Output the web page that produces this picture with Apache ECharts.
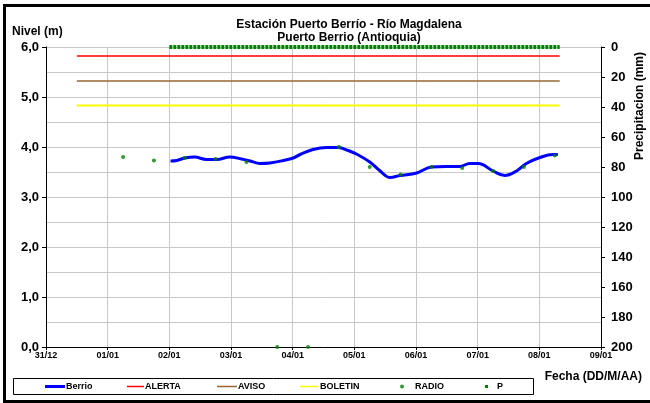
<!DOCTYPE html>
<html>
<head>
<meta charset="utf-8">
<script src="https://cdn.jsdelivr.net/npm/echarts@6/dist/echarts.min.js"></script>
<style>
html,body{margin:0;padding:0;background:#fff;}
#c{width:650px;height:403px;}
</style>
</head>
<body>
<div id="c"></div>
<script>
// ---- data ----
const xTickLabels = ['31/12','01/01','02/01','03/01','04/01','05/01','06/01','07/01','08/01','09/01'];
const berrioDays   = [2.02,2.12,2.25,2.41,2.60,2.77,2.98,3.17,3.31,3.47,3.63,3.85,4.01,4.12,4.33,4.55,4.74,4.90,5.05,5.25,5.41,5.58,5.74,6.01,6.25,6.49,6.71,6.87,7.01,7.25,7.44,7.63,7.79,8.01,8.22,8.30];
const berrioLevels = [3.72,3.73,3.78,3.80,3.75,3.75,3.80,3.76,3.72,3.67,3.68,3.73,3.78,3.85,3.95,3.99,3.99,3.93,3.85,3.70,3.53,3.39,3.43,3.48,3.60,3.61,3.61,3.67,3.67,3.52,3.43,3.52,3.67,3.79,3.85,3.85];
const radioDays   = [1.25,1.75,2.25,2.75,3.25,3.75,4.25,4.75,5.25,5.75,6.25,6.75,7.25,7.75,8.25];
const radioLevels = [3.80,3.73,3.78,3.76,3.70,0.00,0.00,4.00,3.60,3.45,3.60,3.58,3.52,3.60,3.83];
const thresholdDays = [0.5, 8.33];
const alertaLevel  = 5.82;
const avisoLevel   = 5.32;
const boletinLevel = 4.83;
const pDays   = [2.0, 8.33];
const pValues = [0, 0];

const FONT = "'Liberation Sans', Arial, sans-serif";
const pair = (xs, ys) => xs.map((x, i) => [x, ys[i]]);
const flat = (xs, v) => xs.map(x => [x, v]);

const chart = echarts.init(document.getElementById('c'), null, {renderer: 'canvas'});

const legendText = (padLeft) => ({fontFamily: FONT, fontWeight: 'bold', fontSize: 9, color: '#000', padding: [0,0,0,padLeft], lineHeight: 11});
function legendAt(name, left, icon, w, h, padLeft) {
  return {
    data: [{name: name, icon: icon}], left: left, top: 381, itemWidth: w, itemHeight: h, padding: 0,
    textStyle: legendText(padLeft), selectedMode: false
  };
}

chart.setOption({
  animation: false,
  backgroundColor: '#fff',
  title: {
    text: 'Estación Puerto Berrío - Río Magdalena\nPuerto Berrio (Antioquia)',
    left: 344, top: 13, textAlign: 'center',
    textStyle: {fontFamily: FONT, fontWeight: 'bold', fontSize: 12, lineHeight: 13, color: '#000'}
  },
  legend: [
    legendAt('Berrio', 45, 'rect', 20, 3, -4),
    legendAt('ALERTA', 127, 'rect', 17, 1.5, -4),
    legendAt('AVISO', 217, 'rect', 20, 1.5, -4),
    legendAt('BOLETIN', 300, 'rect', 18, 1.5, -3),
    legendAt('RADIO', 400, 'circle', 4, 4, 6),
    legendAt('P', 485, 'rect', 3, 3, 4)
  ],
  grid: {left: 46, right: 49, top: 47, bottom: 56, containLabel: false},
  xAxis: {
    type: 'value', min: 0, max: 9, interval: 1,
    axisLine: {show: true, onZero: false, lineStyle: {color: '#000', width: 1}},
    axisTick: {show: true, length: 3, lineStyle: {color: '#000'}},
    axisLabel: {fontFamily: FONT, fontWeight: 'bold', fontSize: 9, color: '#000', margin: 4,
      formatter: v => xTickLabels[Math.round(v)] || ''},
    splitLine: {show: true, lineStyle: {color: '#c8c8c8', width: 1}}
  },
  yAxis: [
    {
      type: 'value', min: 0, max: 6, interval: 1, position: 'left',
      axisLine: {show: true, onZero: false, lineStyle: {color: '#000', width: 1}},
      axisTick: {show: true, length: 4, lineStyle: {color: '#000'}},
      axisLabel: {fontFamily: FONT, fontWeight: 'bold', fontSize: 13, color: '#000', margin: 7,
        formatter: v => v.toFixed(1).replace('.', ',')},
      splitLine: {show: true, lineStyle: {color: '#c8c8c8', width: 1}},
      minorTick: {show: false, splitNumber: 2},
      minorSplitLine: {show: true, lineStyle: {color: '#c8c8c8', width: 1}}
    },
    {
      type: 'value', min: 0, max: 200, interval: 20, position: 'right', inverse: true,
      axisLine: {show: true, onZero: false, lineStyle: {color: '#000', width: 1}},
      axisTick: {show: true, length: 4, lineStyle: {color: '#000'}},
      axisLabel: {fontFamily: FONT, fontWeight: 'bold', fontSize: 13, color: '#000', margin: 10},
      splitLine: {show: false}
    }
  ],
  graphic: [
    {type: 'rect', silent: true, shape: {x: 4.5, y: 5.5, width: 700, height: 396},
      style: {fill: 'none', stroke: '#000', lineWidth: 3}},
    {type: 'rect', silent: true, shape: {x: 13.5, y: 378.5, width: 520, height: 16},
      style: {fill: 'none', stroke: '#000', lineWidth: 1}, z: -1},
    {type: 'text', left: 12, top: 26,
      style: {text: 'Nivel (m)', font: "bold 12px 'Liberation Sans', Arial", fill: '#000'}},
    {type: 'text', x: 642, y: 377,
      style: {text: 'Fecha (DD/M/AA)', font: "bold 12px 'Liberation Sans', Arial", fill: '#000', textAlign: 'right', textVerticalAlign: 'middle'}},
    {type: 'text', x: 640, y: 106, rotation: Math.PI / 2,
      style: {text: 'Precipitacion (mm)', font: "bold 12px 'Liberation Sans', Arial", fill: '#000', textAlign: 'center', textVerticalAlign: 'middle'}}
  ],
  series: [
    {name: 'Berrio', type: 'line', data: pair(berrioDays, berrioLevels), smooth: 0.4, showSymbol: false, symbol: 'none',
      lineStyle: {color: '#0000ff', width: 3}, itemStyle: {color: '#0000ff'}, z: 5},
    {name: 'ALERTA', type: 'line', data: flat(thresholdDays, alertaLevel), symbol: 'none',
      lineStyle: {color: '#ff0000', width: 1.5}, itemStyle: {color: '#ff0000'}},
    {name: 'AVISO', type: 'line', data: flat(thresholdDays, avisoLevel), symbol: 'none',
      lineStyle: {color: '#996633', width: 1.5}, itemStyle: {color: '#996633'}},
    {name: 'BOLETIN', type: 'line', data: flat(thresholdDays, boletinLevel), symbol: 'none',
      lineStyle: {color: '#ffff00', width: 2}, itemStyle: {color: '#ffff00'}},
    {name: 'RADIO', type: 'scatter', data: pair(radioDays, radioLevels), symbol: 'circle', symbolSize: 4,
      itemStyle: {color: '#008000'}, z: 6},
    {name: 'P', type: 'line', yAxisIndex: 1, data: pair(pDays, pValues), symbol: 'none',
      lineStyle: {color: '#008000', width: 4, type: [3, 1]}, itemStyle: {color: '#008000'}, z: 4}
  ]
});
</script>
</body>
</html>
